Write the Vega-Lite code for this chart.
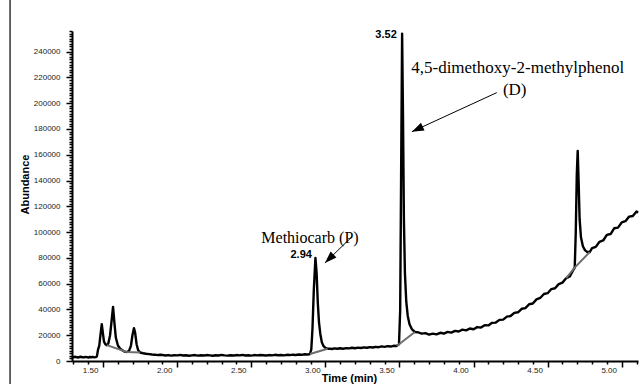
{
  "$schema": "https://vega.github.io/schema/vega-lite/v6.json",
  "width": 566,
  "height": 330,
  "autosize": {"type": "none"},
  "padding": {"left": 72, "top": 31, "right": 2, "bottom": 23},
  "background": "white",
  "config": {
    "view": {"stroke": null},
    "axis": {
      "domainColor": "#000",
      "domainWidth": 2,
      "tickColor": "#000",
      "tickWidth": 1.5,
      "labelFont": "Liberation Sans",
      "labelFontSize": 8,
      "labelColor": "#222",
      "titleFont": "Liberation Sans",
      "titleFontSize": 11,
      "titleFontWeight": "bold",
      "titleColor": "#000",
      "grid": false,
      "labelOverlap": false,
      "labelFlush": false
    }
  },
  "datasets": {
    "trace": [
      {"t": 1.29, "a": 3200}, {"t": 1.30, "a": 2900}, {"t": 1.31, "a": 3300}, {"t": 1.32, "a": 3000},
      {"t": 1.33, "a": 2700}, {"t": 1.34, "a": 3100}, {"t": 1.35, "a": 3300}, {"t": 1.36, "a": 2900},
      {"t": 1.37, "a": 2800}, {"t": 1.38, "a": 3200}, {"t": 1.39, "a": 3000}, {"t": 1.40, "a": 2700},
      {"t": 1.41, "a": 3100}, {"t": 1.42, "a": 2900}, {"t": 1.43, "a": 3200}, {"t": 1.44, "a": 2800},
      {"t": 1.45, "a": 3000}, {"t": 1.458, "a": 3600}, {"t": 1.466, "a": 9000}, {"t": 1.474, "a": 12000},
      {"t": 1.482, "a": 20000}, {"t": 1.491, "a": 28500}, {"t": 1.498, "a": 22000}, {"t": 1.506, "a": 15000},
      {"t": 1.515, "a": 13000}, {"t": 1.525, "a": 12300}, {"t": 1.535, "a": 13500}, {"t": 1.547, "a": 20000},
      {"t": 1.558, "a": 32000}, {"t": 1.567, "a": 42000}, {"t": 1.576, "a": 30000}, {"t": 1.586, "a": 18000},
      {"t": 1.60, "a": 12000}, {"t": 1.615, "a": 9500}, {"t": 1.63, "a": 8300}, {"t": 1.645, "a": 7300},
      {"t": 1.66, "a": 7000}, {"t": 1.675, "a": 7800}, {"t": 1.688, "a": 12000}, {"t": 1.698, "a": 20000},
      {"t": 1.708, "a": 25500}, {"t": 1.716, "a": 22000}, {"t": 1.726, "a": 13000}, {"t": 1.736, "a": 8500},
      {"t": 1.75, "a": 6600}, {"t": 1.77, "a": 6000}, {"t": 1.79, "a": 5600}, {"t": 1.81, "a": 5300},
      {"t": 1.83, "a": 5000}, {"t": 1.85, "a": 4900}, {"t": 1.87, "a": 4600}, {"t": 1.89, "a": 4800},
      {"t": 1.90, "a": 4700}, {"t": 1.92, "a": 4300}, {"t": 1.94, "a": 4600}, {"t": 1.96, "a": 4200},
      {"t": 1.98, "a": 4500}, {"t": 2.00, "a": 4400}, {"t": 2.02, "a": 4700}, {"t": 2.04, "a": 4300},
      {"t": 2.06, "a": 4500}, {"t": 2.08, "a": 4100}, {"t": 2.10, "a": 4400}, {"t": 2.12, "a": 4600},
      {"t": 2.14, "a": 4200}, {"t": 2.16, "a": 4500}, {"t": 2.18, "a": 4300}, {"t": 2.20, "a": 4600},
      {"t": 2.22, "a": 4400}, {"t": 2.24, "a": 4100}, {"t": 2.26, "a": 4500}, {"t": 2.28, "a": 4300},
      {"t": 2.30, "a": 4700}, {"t": 2.32, "a": 4400}, {"t": 2.34, "a": 4200}, {"t": 2.36, "a": 4500},
      {"t": 2.38, "a": 4300}, {"t": 2.40, "a": 4600}, {"t": 2.42, "a": 4400}, {"t": 2.44, "a": 4700},
      {"t": 2.46, "a": 4300}, {"t": 2.48, "a": 4500}, {"t": 2.50, "a": 4200}, {"t": 2.52, "a": 4600},
      {"t": 2.54, "a": 4400}, {"t": 2.56, "a": 4700}, {"t": 2.58, "a": 4500}, {"t": 2.60, "a": 4300},
      {"t": 2.62, "a": 4600}, {"t": 2.64, "a": 4400}, {"t": 2.66, "a": 4800}, {"t": 2.68, "a": 4500},
      {"t": 2.70, "a": 4700}, {"t": 2.72, "a": 4400}, {"t": 2.74, "a": 4800}, {"t": 2.76, "a": 4600},
      {"t": 2.78, "a": 4900}, {"t": 2.80, "a": 4700}, {"t": 2.82, "a": 5000}, {"t": 2.84, "a": 4800},
      {"t": 2.86, "a": 5200}, {"t": 2.88, "a": 5000}, {"t": 2.896, "a": 5400}, {"t": 2.905, "a": 9000},
      {"t": 2.913, "a": 25000}, {"t": 2.922, "a": 55000}, {"t": 2.933, "a": 80000}, {"t": 2.941, "a": 68000},
      {"t": 2.949, "a": 45000}, {"t": 2.957, "a": 30000}, {"t": 2.966, "a": 21000}, {"t": 2.976, "a": 14500},
      {"t": 2.988, "a": 11500}, {"t": 3.00, "a": 10200}, {"t": 3.015, "a": 9500}, {"t": 3.03, "a": 9600},
      {"t": 3.045, "a": 9300}, {"t": 3.06, "a": 9800}, {"t": 3.08, "a": 9500}, {"t": 3.10, "a": 9900},
      {"t": 3.12, "a": 9500}, {"t": 3.14, "a": 10000}, {"t": 3.16, "a": 9800}, {"t": 3.18, "a": 10300},
      {"t": 3.20, "a": 9900}, {"t": 3.22, "a": 10400}, {"t": 3.24, "a": 10100}, {"t": 3.26, "a": 10600},
      {"t": 3.28, "a": 10300}, {"t": 3.30, "a": 10800}, {"t": 3.32, "a": 10500}, {"t": 3.34, "a": 11000},
      {"t": 3.36, "a": 10700}, {"t": 3.38, "a": 11300}, {"t": 3.40, "a": 11000}, {"t": 3.42, "a": 11500},
      {"t": 3.44, "a": 11200}, {"t": 3.46, "a": 11800}, {"t": 3.48, "a": 11600}, {"t": 3.497, "a": 13000},
      {"t": 3.505, "a": 40000}, {"t": 3.511, "a": 140000}, {"t": 3.518, "a": 254000}, {"t": 3.524, "a": 190000},
      {"t": 3.530, "a": 110000}, {"t": 3.537, "a": 68000}, {"t": 3.546, "a": 46000}, {"t": 3.556, "a": 35000},
      {"t": 3.568, "a": 28500}, {"t": 3.585, "a": 24500}, {"t": 3.604, "a": 22500}, {"t": 3.625, "a": 22300},
      {"t": 3.65, "a": 21200}, {"t": 3.675, "a": 21600}, {"t": 3.70, "a": 20500}, {"t": 3.725, "a": 21200},
      {"t": 3.75, "a": 20700}, {"t": 3.775, "a": 21900}, {"t": 3.80, "a": 21300}, {"t": 3.825, "a": 22600},
      {"t": 3.85, "a": 22000}, {"t": 3.875, "a": 23400}, {"t": 3.90, "a": 22900}, {"t": 3.925, "a": 24300},
      {"t": 3.95, "a": 23800}, {"t": 3.975, "a": 25200}, {"t": 4.00, "a": 24600}, {"t": 4.025, "a": 26300},
      {"t": 4.05, "a": 25900}, {"t": 4.075, "a": 27800}, {"t": 4.10, "a": 27600}, {"t": 4.125, "a": 29600},
      {"t": 4.15, "a": 29800}, {"t": 4.175, "a": 31900}, {"t": 4.20, "a": 32100}, {"t": 4.225, "a": 34400},
      {"t": 4.25, "a": 34900}, {"t": 4.275, "a": 37300}, {"t": 4.30, "a": 37800}, {"t": 4.325, "a": 40500},
      {"t": 4.35, "a": 41000}, {"t": 4.375, "a": 44000}, {"t": 4.40, "a": 44600}, {"t": 4.425, "a": 47800},
      {"t": 4.45, "a": 48900}, {"t": 4.475, "a": 52000}, {"t": 4.50, "a": 52600}, {"t": 4.525, "a": 55800},
      {"t": 4.55, "a": 56400}, {"t": 4.575, "a": 59600}, {"t": 4.60, "a": 60800}, {"t": 4.625, "a": 64200},
      {"t": 4.65, "a": 65600}, {"t": 4.668, "a": 69500}, {"t": 4.683, "a": 72500}, {"t": 4.690, "a": 100000},
      {"t": 4.697, "a": 145000}, {"t": 4.703, "a": 163000}, {"t": 4.709, "a": 140000}, {"t": 4.716, "a": 110000},
      {"t": 4.725, "a": 96000}, {"t": 4.738, "a": 89000}, {"t": 4.752, "a": 86000}, {"t": 4.768, "a": 84500},
      {"t": 4.784, "a": 84500}, {"t": 4.80, "a": 87500}, {"t": 4.825, "a": 88500}, {"t": 4.85, "a": 92500},
      {"t": 4.875, "a": 93500}, {"t": 4.90, "a": 97800}, {"t": 4.925, "a": 98500}, {"t": 4.95, "a": 103000},
      {"t": 4.975, "a": 103500}, {"t": 5.00, "a": 107500}, {"t": 5.025, "a": 108500}, {"t": 5.05, "a": 112000},
      {"t": 5.075, "a": 112500}, {"t": 5.10, "a": 116000}, {"t": 5.11, "a": 115000}
    ],
    "baseline": [
      {"seg": "1", "t": 1.525, "a": 12300}, {"seg": "1", "t": 1.66, "a": 7000}, {"seg": "1", "t": 1.75, "a": 6600},
      {"seg": "2", "t": 2.896, "a": 5400}, {"seg": "2", "t": 3.015, "a": 9500},
      {"seg": "3", "t": 3.482, "a": 11600}, {"seg": "3", "t": 3.604, "a": 22500},
      {"seg": "4", "t": 4.625, "a": 64200}, {"seg": "4", "t": 4.683, "a": 72500}, {"seg": "4", "t": 4.784, "a": 84500}
    ],
    "rtlabels": [
      {"t": 3.482, "a": 253200, "text": "3.52"},
      {"t": 2.909, "a": 82300, "text": "2.94"}
    ],
    "names": [
      {"t": 2.896, "a": 95500, "text": "Methiocarb (P)"}
    ],
    "dnames": [
      {"t": 4.298, "a": 227600, "text": "4,5-dimethoxy-2-methylphenol"},
      {"t": 4.278, "a": 210500, "text": "(D)"}
    ],
    "arrows": [
      {"name": "P", "t": 3.179, "a": 96300, "t2": 2.997, "a2": 76100},
      {"name": "D", "t": 4.157, "a": 208200, "t2": 3.584, "a2": 177900}
    ],
    "border": [
      {"t": 0.872, "a": -20000, "a2": 290000}
    ]
  },
  "encoding": {
    "x": {
      "field": "t",
      "type": "quantitative",
      "scale": {"domain": [1.29, 5.11], "nice": false, "zero": false},
      "axis": {
        "title": "Time (min)",
        "tickCount": 38,
        "labelExpr": "abs(datum.value * 2 - round(datum.value * 2)) < 0.001 ? format(datum.value, '.2f') : ''",
        "tickSize": {"condition": {"test": "abs(datum.value * 2 - round(datum.value * 2)) < 0.001", "value": 6}, "value": 3},
        "labelOffset": -13,
        "labelPadding": -1,
        "titleX": 277,
        "titleY": 17,
        "titleBaseline": "middle",
        "titleAlign": "center"
      }
    },
    "y": {
      "field": "a",
      "type": "quantitative",
      "scale": {"domain": [0, 256000], "nice": false, "zero": true},
      "axis": {
        "title": "Abundance",
        "tickCount": 128,
        "labelExpr": "datum.value % 20000 === 0 ? format(datum.value, 'd') : ''",
        "tickSize": {"condition": {"test": "datum.value % 20000 === 0", "value": 6}, "value": 3},
        "labelPadding": 6,
        "titleX": -47,
        "titleY": 153,
        "titleBaseline": "middle",
        "titleAlign": "center"
      }
    }
  },
  "layer": [
    {
      "data": {"name": "border"},
      "mark": {"type": "rule", "color": "#333", "strokeWidth": 1.5, "clip": false},
      "encoding": {"y2": {"field": "a2"}}
    },
    {
      "data": {"name": "trace"},
      "mark": {"type": "line", "color": "#000", "strokeWidth": 2.4, "strokeJoin": "round", "interpolate": "linear"}
    },
    {
      "data": {"name": "baseline"},
      "mark": {"type": "line", "color": "#6e6e6e", "strokeWidth": 2},
      "encoding": {"detail": {"field": "seg"}}
    },
    {
      "data": {"name": "rtlabels"},
      "mark": {"type": "text", "align": "right", "baseline": "middle", "font": "Liberation Sans", "fontWeight": "bold", "fontSize": 11, "color": "#000"},
      "encoding": {"text": {"field": "text"}}
    },
    {
      "data": {"name": "names"},
      "mark": {"type": "text", "align": "center", "baseline": "middle", "font": "Liberation Serif", "fontSize": 16, "color": "#000"},
      "encoding": {"text": {"field": "text"}}
    },
    {
      "data": {"name": "dnames"},
      "mark": {"type": "text", "align": "center", "baseline": "middle", "font": "Liberation Serif", "fontSize": 17, "color": "#000"},
      "encoding": {"text": {"field": "text"}}
    },
    {
      "data": {"name": "arrows"},
      "mark": {"type": "rule", "color": "#000", "strokeWidth": 1},
      "encoding": {"x2": {"field": "t2"}, "y2": {"field": "a2"}}
    },
    {
      "data": {"name": "arrows"},
      "transform": [{"filter": "datum.name === 'P'"}],
      "mark": {"type": "point", "shape": "M0,0L-0.7,2L0.7,2Z", "size": 144, "filled": true, "color": "#000", "opacity": 1, "angle": 226},
      "encoding": {"x": {"field": "t2", "type": "quantitative"}, "y": {"field": "a2", "type": "quantitative"}}
    },
    {
      "data": {"name": "arrows"},
      "transform": [{"filter": "datum.name === 'D'"}],
      "mark": {"type": "point", "shape": "M0,0L-0.7,2L0.7,2Z", "size": 144, "filled": true, "color": "#000", "opacity": 1, "angle": 245},
      "encoding": {"x": {"field": "t2", "type": "quantitative"}, "y": {"field": "a2", "type": "quantitative"}}
    }
  ]
}
